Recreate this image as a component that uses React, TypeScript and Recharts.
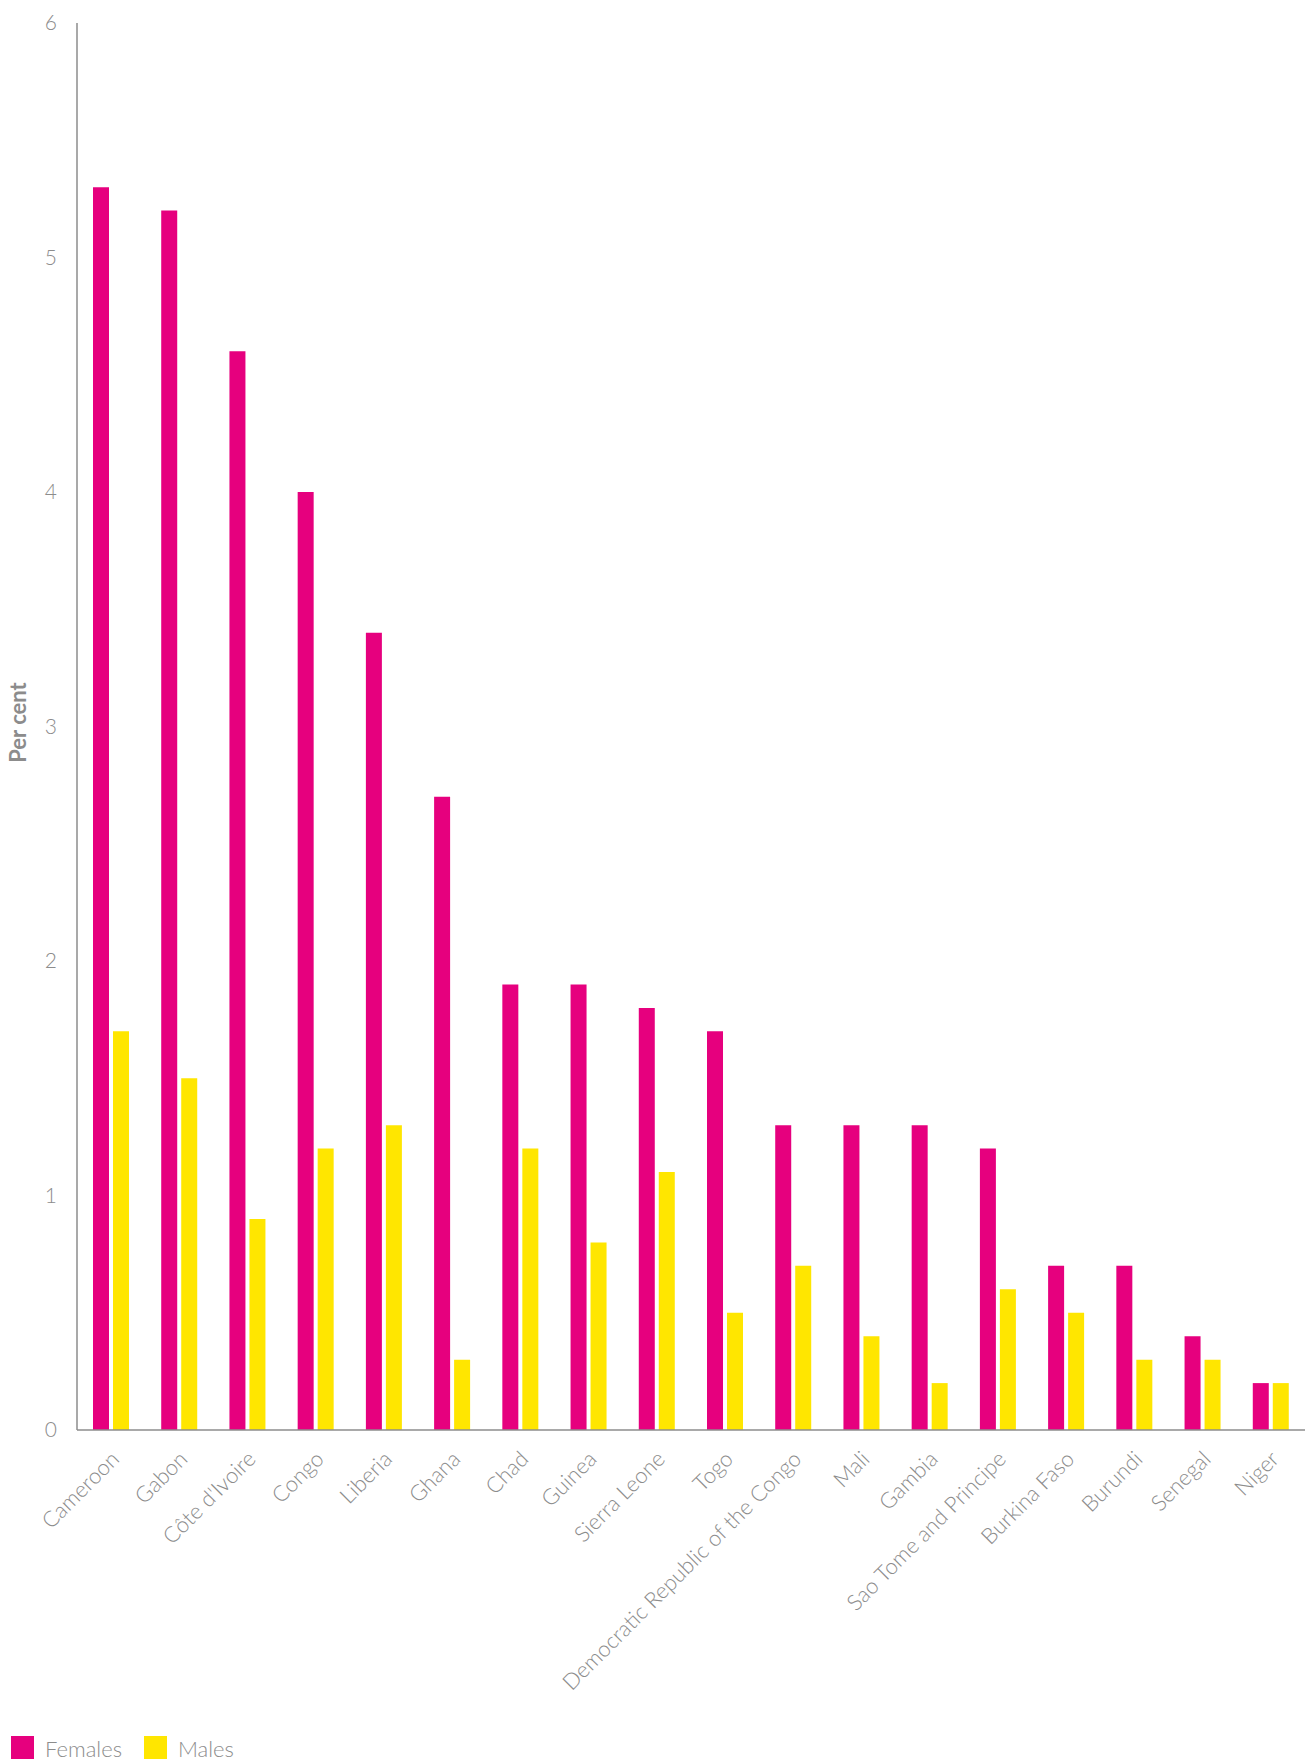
import React from 'react';
import { BarChart, Bar, XAxis, YAxis, Legend } from 'recharts';

const countries = [
  'Cameroon', 'Gabon', "Côte d'Ivoire", 'Congo', 'Liberia', 'Ghana', 'Chad', 'Guinea',
  'Sierra Leone', 'Togo', 'Democratic Republic of the Congo', 'Mali', 'Gambia',
  'Sao Tome and Principe', 'Burkina Faso', 'Burundi', 'Senegal', 'Niger',
];
const females = [5.3, 5.2, 4.6, 4.0, 3.4, 2.7, 1.9, 1.9, 1.8, 1.7, 1.3, 1.3, 1.3, 1.2, 0.7, 0.7, 0.4, 0.2];
const males = [1.7, 1.5, 0.9, 1.2, 1.3, 0.3, 1.2, 0.8, 1.1, 0.5, 0.7, 0.4, 0.2, 0.6, 0.5, 0.3, 0.3, 0.2];
const yTicks = [0, 1, 2, 3, 4, 5, 6];

const PINK = '#e6007e';
const YELLOW = '#ffe600';
const GREY = '#8c8c8c';
const FONT = 'Lato, "Open Sans", sans-serif';

const data = countries.map((name, i) => ({ name, Females: females[i], Males: males[i] }));

const XTick = ({ x, y, payload }: any) => (
  <g transform={`translate(${x + 4},${y + 17})`}>
    <text
      x={0}
      y={0}
      dy="0.35em"
      textAnchor="end"
      transform="rotate(-45)"
      fill={GREY}
      fontSize={22}
      fontWeight={300}
      fontFamily={FONT}
    >
      {payload.value}
    </text>
  </g>
);

const YLabel = ({ viewBox }: any) => {
  const cx = viewBox.x + 17;
  const cy = viewBox.y + viewBox.height / 2 - 4;
  return (
    <text
      x={cx}
      y={cy}
      transform={`rotate(-90, ${cx}, ${cy})`}
      textAnchor="middle"
      dominantBaseline="central"
      fill={GREY}
      fontSize={22}
      fontWeight={700}
      fontFamily={FONT}
    >
      Per cent
    </text>
  );
};

const LegendContent = () => (
  <div style={{ display: 'flex', alignItems: 'flex-end', fontFamily: FONT, fontWeight: 300, fontSize: 22, color: GREY }}>
    {[{ label: 'Females', color: PINK }, { label: 'Males', color: YELLOW }].map((it) => (
      <div key={it.label} style={{ display: 'flex', alignItems: 'flex-end', marginRight: 22 }}>
        <span style={{ display: 'inline-block', width: 23, height: 23, background: it.color, marginRight: 11 }} />
        <span style={{ lineHeight: '20px' }}>{it.label}</span>
      </div>
    ))}
  </div>
);

export default function App() {
  return (
    <div style={{ position: 'absolute', left: 0, top: 0, width: 1306, height: 1762, overflow: 'hidden', background: '#fff' }}>
      <BarChart
        width={1306}
        height={1762}
        data={data}
        margin={{ top: 23, right: 1, left: 0, bottom: 0 }}
        barSize={16}
        barGap={4}
      >
        <XAxis
          dataKey="name"
          interval={0}
          tickLine={false}
          axisLine={{ stroke: GREY, strokeWidth: 1.5 }}
          tick={<XTick />}
          height={309}
        />
        <YAxis
          width={77}
          domain={[0, 6]}
          ticks={yTicks}
          tickLine={false}
          tickSize={0}
          tickMargin={20}
          axisLine={{ stroke: GREY, strokeWidth: 1.5 }}
          tick={{ fill: GREY, fontSize: 21, fontWeight: 300, fontFamily: FONT }}
          label={<YLabel />}
        />
        <Legend
          verticalAlign="bottom"
          align="left"
          content={<LegendContent />}
          wrapperStyle={{ left: 11, bottom: 3, height: 23 }}
        />
        <Bar dataKey="Females" fill={PINK} isAnimationActive={false} />
        <Bar dataKey="Males" fill={YELLOW} isAnimationActive={false} />
      </BarChart>
    </div>
  );
}
